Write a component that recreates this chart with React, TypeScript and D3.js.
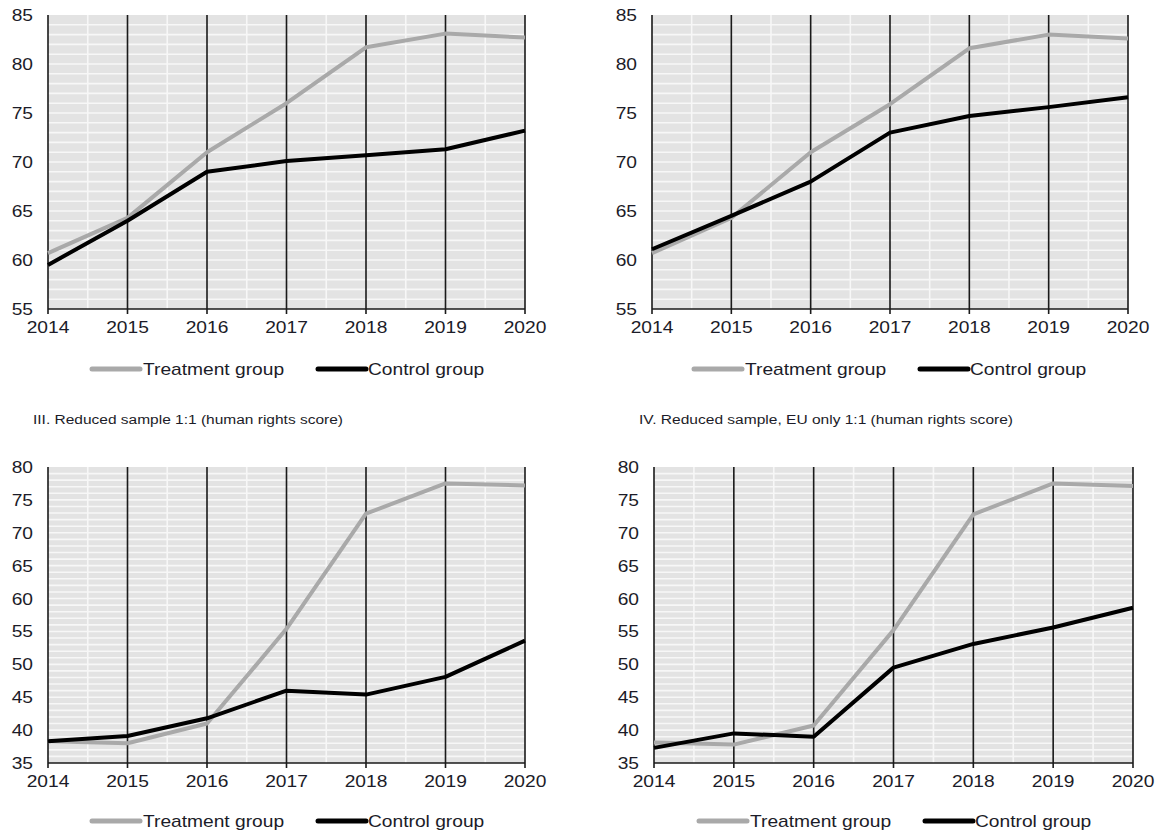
import React from "react";
import * as d3 from "d3";

const years = [2014, 2015, 2016, 2017, 2018, 2019, 2020];

const p1Treatment = [60.7, 64.3, 71.0, 76.0, 81.7, 83.1, 82.7];
const p1Control = [59.5, 64.0, 69.0, 70.1, 70.7, 71.3, 73.2];
const p2Treatment = [60.7, 64.3, 71.0, 75.9, 81.6, 83.0, 82.6];
const p2Control = [61.1, 64.5, 68.0, 73.0, 74.7, 75.6, 76.6];
const p3Treatment = [38.3, 38.0, 41.0, 55.4, 72.9, 77.5, 77.2];
const p3Control = [38.3, 39.1, 41.8, 46.0, 45.4, 48.1, 53.6];
const p4Treatment = [38.1, 37.8, 40.7, 55.2, 72.8, 77.5, 77.1];
const p4Control = [37.3, 39.5, 39.0, 49.5, 53.1, 55.6, 58.6];

const yTicksTop = [55, 60, 65, 70, 75, 80, 85];
const yTicksBottom = [35, 40, 45, 50, 55, 60, 65, 70, 75, 80];

const titleIII = "III. Reduced sample 1:1 (human rights score)";
const titleIV = "IV. Reduced sample, EU only 1:1 (human rights score)";
const legendLabels = ["Treatment group", "Control group"];

const TREAT = "#a9a9a9";
const CTRL = "#000000";
const TEXT = "#1c1c28";
const FONT = "'Liberation Sans', Arial, sans-serif";

type PanelProps = {
  left: number; top: number; right: number; bottom: number;
  domain: [number, number]; ticks: number[];
  treatment: number[]; control: number[];
  legendY: number; legendX: number;
};

function SText({ x, y, anchor, size, children, sx = 1.2, fill = TEXT }: any) {
  return (
    <text
      transform={`translate(${x},${y}) scale(${sx},1)`}
      textAnchor={anchor}
      fontSize={size}
      fontFamily={FONT}
      fill={fill}
    >
      {children}
    </text>
  );
}

function Panel(p: PanelProps) {
  const x = d3.scaleLinear().domain([2014, 2020]).range([p.left, p.right]);
  const y = d3.scaleLinear().domain(p.domain).range([p.bottom, p.top]);
  const minor = d3.range(p.domain[0] + 1, p.domain[1], 1);
  const halfYears = d3.range(2014.5, 2020, 1);
  const line = d3
    .line<number>()
    .x((_, i) => x(years[i]))
    .y((v) => y(v));
  return (
    <g>
      <rect x={p.left} y={p.top} width={p.right - p.left} height={p.bottom - p.top} fill="#e3e3e3" />
      {minor.map((v) => (
        <line key={"h" + v} x1={p.left} x2={p.right} y1={y(v)} y2={y(v)} stroke="#f7f7f7" strokeWidth={1.6} />
      ))}
      {halfYears.map((v) => (
        <line key={"v" + v} x1={x(v)} x2={x(v)} y1={p.top} y2={p.bottom} stroke="#f7f7f7" strokeWidth={1.6} />
      ))}
      {years.map((yr) => (
        <line key={"y" + yr} x1={x(yr)} x2={x(yr)} y1={p.top} y2={p.bottom + 5} stroke="#1a1a1a" strokeWidth={1.6} />
      ))}
      <line x1={p.left} x2={p.right} y1={p.bottom} y2={p.bottom} stroke="#1a1a1a" strokeWidth={1.6} />
      <path d={line(p.treatment) || ""} fill="none" stroke={TREAT} strokeWidth={4} strokeLinejoin="round" />
      <path d={line(p.control) || ""} fill="none" stroke={CTRL} strokeWidth={4} strokeLinejoin="round" />
      {p.ticks.map((t) => (
        <SText key={"t" + t} x={p.left - 15} y={y(t) + 6} anchor="end" size={16}>
          {t}
        </SText>
      ))}
      {years.map((yr) => (
        <SText key={"x" + yr} x={x(yr)} y={p.bottom + 24} anchor="middle" size={16}>
          {yr}
        </SText>
      ))}
      <g>
        <line x1={p.legendX} x2={p.legendX + 48} y1={p.legendY} y2={p.legendY} stroke={TREAT} strokeWidth={5} strokeLinecap="round" />
        <SText x={p.legendX + 51} y={p.legendY + 6} anchor="start" size={16}>
          {legendLabels[0]}
        </SText>
        <line x1={p.legendX + 226} x2={p.legendX + 274} y1={p.legendY} y2={p.legendY} stroke={CTRL} strokeWidth={5} strokeLinecap="round" />
        <SText x={p.legendX + 276} y={p.legendY + 6} anchor="start" size={16}>
          {legendLabels[1]}
        </SText>
      </g>
    </g>
  );
}

export default function App() {
  return (
    <svg width={1162} height={831} style={{ position: "absolute", left: 0, top: 0, background: "#fff" }}>
      <Panel left={48} top={15} right={525} bottom={309} domain={[55, 85]} ticks={yTicksTop}
        treatment={p1Treatment} control={p1Control} legendX={92} legendY={369} />
      <Panel left={652} top={15} right={1128} bottom={309} domain={[55, 85]} ticks={yTicksTop}
        treatment={p2Treatment} control={p2Control} legendX={694} legendY={369} />
      <Panel left={48} top={467} right={525} bottom={763} domain={[35, 80]} ticks={yTicksBottom}
        treatment={p3Treatment} control={p3Control} legendX={92} legendY={821} />
      <Panel left={654} top={467} right={1133} bottom={763} domain={[35, 80]} ticks={yTicksBottom}
        treatment={p4Treatment} control={p4Control} legendX={699} legendY={821} />
      <text x={33} y={424} fontSize={12} fontFamily={FONT} fill={TEXT} textLength={310} lengthAdjust="spacingAndGlyphs">
        {titleIII}
      </text>
      <text x={639} y={424} fontSize={12} fontFamily={FONT} fill={TEXT} textLength={374} lengthAdjust="spacingAndGlyphs">
        {titleIV}
      </text>
    </svg>
  );
}
